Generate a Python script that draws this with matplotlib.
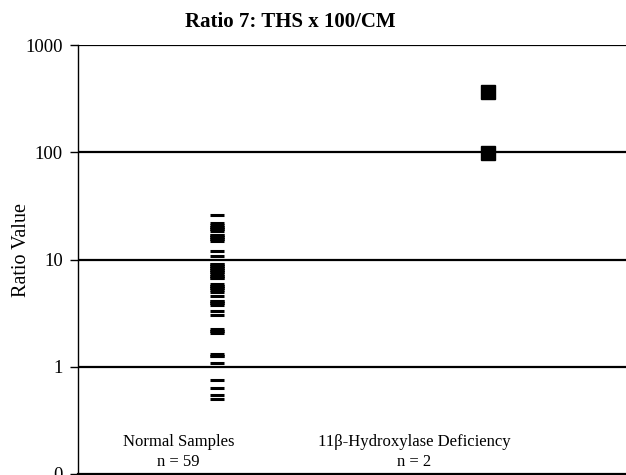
import matplotlib
matplotlib.use("Agg")
import matplotlib.pyplot as plt
from matplotlib.ticker import FixedLocator, FuncFormatter, NullLocator

plt.rcParams['font.family'] = ['Liberation Serif', 'DejaVu Serif']

# values
categories = ["Normal Samples", "11\u03b2-Hydroxylase Deficiency"]
n_labels = ["n = 59", "n = 2"]
normal_values = [
    26.0, 22.0, 21.1, 20.2, 19.3, 18.5, 17.0, 16.3, 15.6, 14.9,
    12.1, 10.8, 9.1, 8.7, 8.4, 8.0, 7.7, 7.4, 7.0, 6.7,
    5.9, 5.7, 5.4, 5.2, 5.0, 4.6, 4.1, 3.9, 3.8, 3.3,
    3.05, 2.26, 2.17, 2.07, 1.32, 1.27, 1.09, 0.76, 0.64, 0.54,
    0.50, 8.0, 7.7, 9.1, 5.4, 17.0, 19.3, 2.17, 3.9, 1.27,
    7.0, 8.4, 5.7, 16.3, 20.2, 15.6, 6.7, 4.1, 8.7,
]
deficiency_values = [365.0, 99.0]
y_ticks = [0.1, 1, 10, 100, 1000]

fig = plt.figure(figsize=(6.26, 4.75), dpi=100)
ax = fig.add_axes([78 / 626, 1 / 475, 1 - 78 / 626 + 0.01, 429 / 475])

ax.plot([1] * len(normal_values), normal_values, linestyle='none',
        marker='_', markersize=10, markeredgewidth=2.2, color='black')
ax.plot([2] * len(deficiency_values), deficiency_values, linestyle='none',
        marker='s', markersize=10, color='black')

ax.set_yscale('log')
ax.set_ylim(0.1, 1000)
ax.set_xlim(0.487, 2.53)
ax.yaxis.set_major_locator(FixedLocator(y_ticks))
ax.yaxis.set_minor_locator(NullLocator())
ax.yaxis.set_major_formatter(FuncFormatter(lambda v, p: f"{v:.0f}"))
ax.set_xticks([])
ax.tick_params(axis='y', direction='out', length=6, width=1, labelsize=13.5, pad=5)

for y in y_ticks[1:]:
    ax.axhline(y, color='black', linewidth=1.6, zorder=0)

for s in ['top', 'right']:
    ax.spines[s].set_visible(False)
ax.spines['left'].set_linewidth(1)
ax.spines['bottom'].set_linewidth(1.6)

# category labels sit inside the plot near the bottom
label_x = [0.181, 0.606]
for lx, cat, nl in zip(label_x, categories, n_labels):
    ax.text(lx, 0.075, cat, transform=ax.transAxes, ha='center', va='center', fontsize=12)
    ax.text(lx, 0.027, nl, transform=ax.transAxes, ha='center', va='center', fontsize=12)

fig.text(22 / 626, 1 - 250 / 475, "Ratio Value", rotation=90, ha='center', va='center',
         fontsize=14.5)
fig.text(0.463, 0.953, "Ratio 7: THS x 100/CM", ha='center', va='center',
         fontsize=15, fontweight='bold')

fig.savefig("out.png", dpi=100)
